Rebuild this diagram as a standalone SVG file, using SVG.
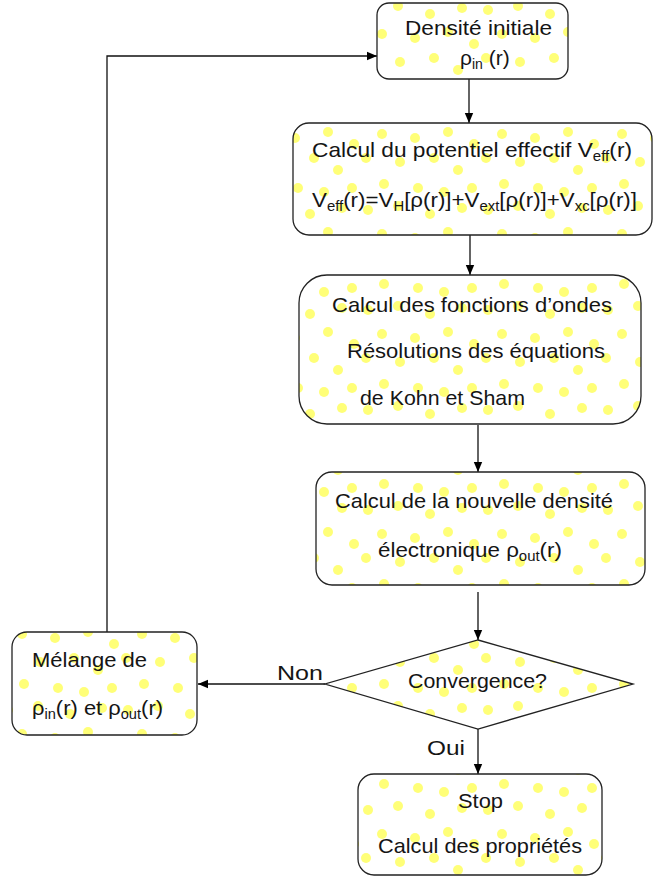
<svg xmlns="http://www.w3.org/2000/svg" width="653" height="877" viewBox="0 0 653 877">
<defs>
<pattern id="dots" patternUnits="userSpaceOnUse" width="120" height="100">
<rect width="120" height="100" fill="#ffffff"/>
<g fill="#ffff78">
<circle cx="8" cy="10" r="5"/><circle cx="38" cy="6" r="5"/><circle cx="70" cy="14" r="5"/><circle cx="102" cy="8" r="5"/>
<circle cx="22" cy="34" r="5"/><circle cx="55" cy="38" r="5"/><circle cx="88" cy="32" r="5"/><circle cx="114" cy="44" r="5"/>
<circle cx="6" cy="58" r="5"/><circle cx="40" cy="62" r="5"/><circle cx="74" cy="58" r="5"/><circle cx="98" cy="70" r="5"/>
<circle cx="24" cy="84" r="5"/><circle cx="58" cy="88" r="5"/><circle cx="84" cy="92" r="5"/><circle cx="112" cy="88" r="5"/>
</g>
</pattern>
<marker id="ah" markerUnits="userSpaceOnUse" markerWidth="10" markerHeight="10" refX="10" refY="5" orient="auto">
<path d="M0,0.8 L10,5 L0,9.2 z" fill="#000"/>
</marker>
<style>
.box{fill:url(#dots);stroke:#222;stroke-width:1.3}
.t{font-family:"Liberation Sans",Arial,sans-serif;font-size:21px;fill:#151515}
.s{font-size:14px}
.c{fill:none;stroke:#111;stroke-width:1.3;marker-end:url(#ah)}
</style>
</defs>

<g id="connectors">
<path class="c" d="M469,79 V123"/>
<path class="c" d="M470,235 V275"/>
<path class="c" d="M478,425 V472"/>
<path class="c" d="M478,592 V640"/>
<path class="c" d="M478,729 V774"/>
<path class="c" d="M325,684 H198"/>
<path class="c" d="M107,632 V56 H377"/>
<text class="t" x="277" y="680" textLength="46" lengthAdjust="spacingAndGlyphs">Non</text>
<text class="t" x="427" y="755" textLength="38" lengthAdjust="spacingAndGlyphs">Oui</text>
</g>

<g id="n1">
<rect class="box" x="377" y="3" width="191" height="76" rx="12"/>
<text class="t" x="405" y="35" textLength="147" lengthAdjust="spacingAndGlyphs">Densité initiale</text>
<text class="t" x="460" y="65">ρ<tspan class="s" dy="4">in</tspan><tspan dy="-4"> (r)</tspan></text>
</g>

<g id="n2">
<rect class="box" x="293" y="123" width="359" height="112" rx="16"/>
<text class="t" x="312" y="157" textLength="320" lengthAdjust="spacingAndGlyphs">Calcul du potentiel effectif V<tspan class="s" dy="4">eff</tspan><tspan dy="-4">(r)</tspan></text>
<text class="t" x="312" y="207" textLength="325" lengthAdjust="spacingAndGlyphs">V<tspan class="s" dy="4">eff</tspan><tspan dy="-4">(r)=V</tspan><tspan class="s" dy="4">H</tspan><tspan dy="-4">[ρ(r)]+V</tspan><tspan class="s" dy="4">ext</tspan><tspan dy="-4">[ρ(r)]+V</tspan><tspan class="s" dy="4">xc</tspan><tspan dy="-4">[ρ(r)]</tspan></text>
</g>

<g id="n3">
<rect class="box" x="299" y="275" width="342" height="149" rx="28"/>
<text class="t" x="332" y="312" textLength="280" lengthAdjust="spacingAndGlyphs">Calcul des fonctions d’ondes</text>
<text class="t" x="347" y="358" textLength="258" lengthAdjust="spacingAndGlyphs">Résolutions des équations</text>
<text class="t" x="360" y="405" textLength="165" lengthAdjust="spacingAndGlyphs">de Kohn et Sham</text>
</g>

<g id="n4">
<rect class="box" x="316" y="472" width="329" height="113" rx="16"/>
<text class="t" x="335" y="508" textLength="278" lengthAdjust="spacingAndGlyphs">Calcul de la nouvelle densité</text>
<text class="t" x="378" y="557" textLength="184" lengthAdjust="spacingAndGlyphs">électronique ρ<tspan class="s" dy="4">out</tspan><tspan dy="-4">(r)</tspan></text>
</g>

<g id="n5">
<polygon class="box" points="478,640 633,684 478,729 325,684"/>
<text class="t" x="408" y="688" textLength="139" lengthAdjust="spacingAndGlyphs">Convergence?</text>
</g>

<g id="n6">
<rect class="box" x="12" y="632" width="185" height="103" rx="15"/>
<text class="t" x="32" y="667" textLength="115" lengthAdjust="spacingAndGlyphs">Mélange de</text>
<text class="t" x="32" y="715" textLength="131" lengthAdjust="spacingAndGlyphs">ρ<tspan class="s" dy="4">in</tspan><tspan dy="-4">(r) et ρ</tspan><tspan class="s" dy="4">out</tspan><tspan dy="-4">(r)</tspan></text>
</g>

<g id="n7">
<rect class="box" x="358" y="774" width="244" height="101" rx="16"/>
<text class="t" x="458" y="808" textLength="45" lengthAdjust="spacingAndGlyphs">Stop</text>
<text class="t" x="378" y="853" textLength="204" lengthAdjust="spacingAndGlyphs">Calcul des propriétés</text>
</g>
</svg>
